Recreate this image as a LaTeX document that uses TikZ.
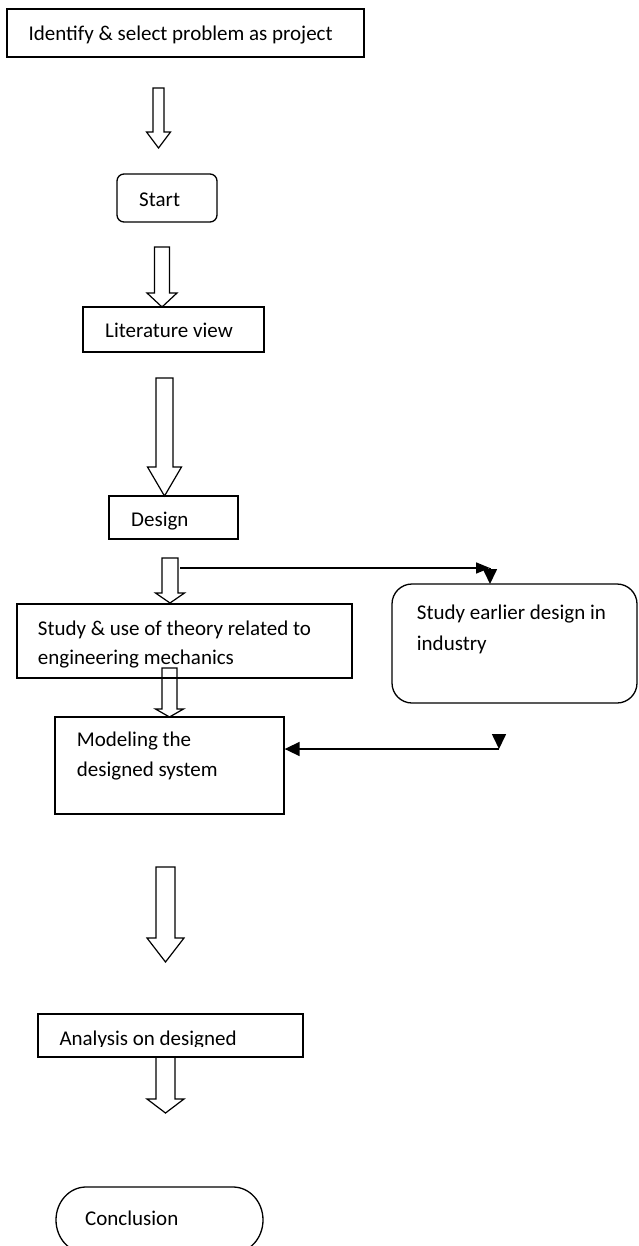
\documentclass[tikz,border=0pt]{standalone}
\usepackage{fontspec}
\setmainfont{Carlito}
\usetikzlibrary{arrows.meta}
\newcommand\blockarr[6]{%
  \draw[arrowline] ({#1-#3/2},#2) -- ({#1+#3/2},#2) -- ({#1+#3/2},#4) -- ({#1+#5/2},#4)
    -- (#1,#6) -- ({#1-#5/2},#4) -- ({#1-#3/2},#4) -- cycle;}
\begin{document}
\begin{tikzpicture}[x=1pt,y=-1pt,
  box/.style={draw, line width=1.3pt, rectangle, inner sep=0pt},
  txt/.style={inner sep=0pt, font=\fontsize{21}{29.5}\selectfont, align=left},
  arrowline/.style={draw, line width=1.2pt, line join=miter},
  conn/.style={line width=1.6pt},
  tip/.style={-{Triangle[length=15pt,width=14pt]}}
]
\useasboundingbox[fill=white] (0,0) rectangle (638,1246);

% boxes
\node[box, minimum width=357pt, minimum height=48pt] (b1) at (185.5,33) {};
\node[txt, anchor=base west] (t1) at (28.3,40.7) {Identify \& select problem as project};

\draw[line width=1.3pt, rounded corners=7pt] (117,174) rectangle (217,222);
\node[inner sep=0pt, minimum width=100pt, minimum height=48pt] (b2) at (167,198) {};
\node[txt, anchor=base west] (t2) at (139,207) {Start};

\node[box, minimum width=181pt, minimum height=45pt] (b3) at (173.5,329.5) {};
\node[txt, anchor=base west] (t3) at (105,337.8) {Literature view};

\node[box, minimum width=129pt, minimum height=43pt] (b4) at (173.5,517.5) {};
\begin{scope}
  \clip (109,496) rectangle (238,529.5);
  \node[txt, anchor=base west] (t4) at (131,526.5) {Design};
\end{scope}

\node[box, minimum width=335pt, minimum height=74pt] (b5) at (184.5,641) {};
\node[txt, anchor=base west] (t5) at (37.7,664.5) {Study \& use of theory related to\\engineering mechanics};

\draw[line width=1.3pt, rounded corners=20pt] (392,584) rectangle (637,703);
\node[inner sep=0pt, minimum width=245pt, minimum height=119pt] (b6) at (514.5,643.5) {};
\node[txt, anchor=base west] (t6) at (416.7,650.7) {Study earlier design in\\[1.5pt]industry};

\node[box, minimum width=229pt, minimum height=97pt] (b7) at (169.5,765.5) {};
\node[txt, anchor=base west] (t7) at (76.7,776.2) {Modeling the\\designed system};

\node[box, minimum width=265pt, minimum height=43pt] (b8) at (170.5,1035.5) {};
\begin{scope}
  \clip (38,1014) rectangle (303,1046);
  \node[txt, anchor=base west] (t8) at (59.3,1045.5) {Analysis on designed};
\end{scope}

\draw[line width=1.3pt] (86,1187) -- (233,1187)
  arc[start angle=-90, end angle=90, x radius=30, y radius=33] -- (86,1253)
  arc[start angle=90, end angle=270, x radius=30, y radius=33] -- cycle;
\node[inner sep=0pt, minimum width=207pt, minimum height=66pt] (b9) at (159.5,1220) {};
\node[txt, anchor=base west] (t9) at (85,1225) {Conclusion};

% block arrows
\blockarr{158.5}{88}{11}{132}{24}{148}
\blockarr{162}{247}{15}{293}{30}{307}
\blockarr{164.5}{378}{17}{467}{34}{496}
\blockarr{170}{558}{16}{593}{29}{603}
\blockarr{169.5}{668}{15}{709}{28}{717}
\blockarr{165.5}{867}{19}{938}{37}{962}
\blockarr{165.5}{1057}{19}{1099}{37}{1113}

% connectors
\coordinate (s1) at (180,568);
\coordinate (k1) at (490,568);
\coordinate (e1) at (490,584);
\draw[conn, -{Triangle[length=14pt,width=11pt]}] (s1) -- (k1);
\draw[conn, tip] (k1) -- (e1);

\coordinate (s2) at (499,749);
\coordinate (s2top) at (499,734);
\draw[conn, tip] (s2top) -- (s2);
\draw[conn, tip] (s2) -- (b7.east |- s2);
\end{tikzpicture}
\end{document}
